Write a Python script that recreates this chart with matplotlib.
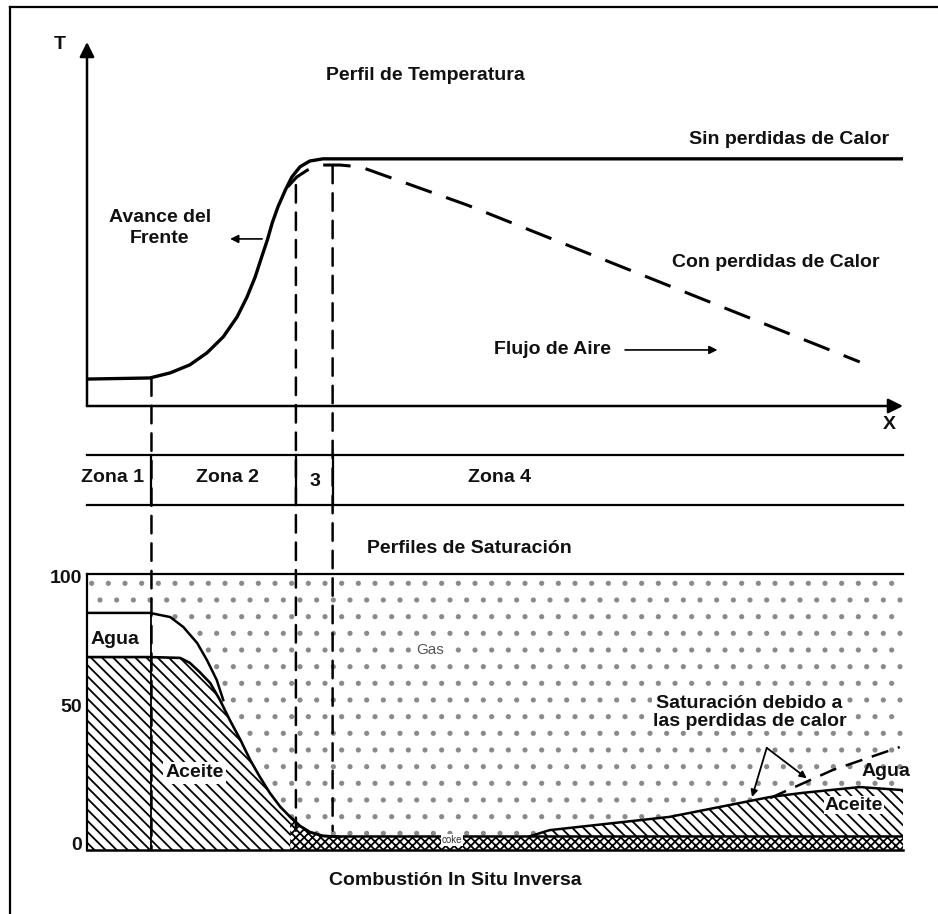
import matplotlib.pyplot as plt
from matplotlib.patches import ConnectionPatch
from matplotlib.lines import Line2D

plt.rcParams['font.family'] = ['Liberation Sans', 'DejaVu Sans']
plt.rcParams['hatch.linewidth'] = 1.3

# --- temperature profile (x: distance 0-100, T: 0-100 arbitrary) ---
temp_x = [0, 7.7, 10.2, 12.6, 14.7, 16.7, 18.4, 19.6, 20.6, 21.4, 22.1, 22.7, 23.4, 24.3,
          25.1, 26.1, 27.3, 28.9, 99.9]
temp_solid = [7.4, 7.7, 9.1, 11.3, 14.6, 19.0, 24.5, 29.9, 35.4, 40.9, 45.6, 50.3, 54.7, 59.3,
              62.9, 65.7, 67.3, 67.9, 67.9]
loss_x = [24.6, 25.7, 27.0, 28.6, 31.0, 33.5, 46.6, 94.7]
temp_loss = [60.2, 62.9, 64.8, 66.2, 66.2, 65.7, 55.2, 12.1]

# zone boundaries and where the dashed guides start / end
zone_bounds = [7.9, 25.6, 30.1]
guide_top_T = [7.6, 60.7, 66.0]
guide_bot_S = [0, 7, 7]
zone_labels = ["Zona 1", "Zona 2", "3", "Zona 4"]
zone_label_x = [3.1, 17.2, 27.9, 50.6]

# --- saturation profiles (%) ---
water_x = [0, 7.7, 10.2, 11.8, 13.5, 14.7, 15.9, 16.7]
water_S = [85.9, 85.9, 84.4, 80.8, 75.0, 68.8, 61.6, 54.3]
oil_x = [0, 7.7, 11.4, 12.6, 13.8, 15.1, 16.3, 17.5, 18.8, 20.0, 21.2, 22.4, 23.7, 24.9,
         26.1, 27.3, 28.9, 31.0]
oil_S = [69.9, 69.9, 69.6, 67.8, 64.5, 60.5, 54.3, 47.1, 39.9, 32.6, 26.4, 20.7, 15.6, 12.0,
         8.7, 6.5, 5.1, 4.7]
coke_x = [24.9, 26.1, 27.3, 28.9, 31.0, 100]
coke_S = [12.0, 8.7, 6.5, 5.1, 4.9, 4.9]
oil_right_x = [54.3, 56.7, 71.4, 83.7, 87.7, 94.7, 100]
oil_right_S = [5.0, 7.2, 12.0, 19.2, 20.7, 22.8, 21.7]
water_right_x = [83.7, 91.4, 99.6]
water_right_S = [18.8, 29.0, 37.3]

W, H = 938, 914
fig = plt.figure(figsize=(W / 100, H / 100), dpi=100)


def box(x0, y0, x1, y1):
    return [x0 / W, 1 - y1 / H, (x1 - x0) / W, (y1 - y0) / H]


bold = dict(fontsize=14, fontweight="bold", color="#111111")

# outer frame (left and top only)
fig.add_artist(Line2D([10 / W, 10 / W], [0, 1 - 7 / H], color="black", lw=1.6))
fig.add_artist(Line2D([10 / W, 1], [1 - 7 / H, 1 - 7 / H], color="black", lw=1.6))

# ---------------- temperature panel ----------------
axT = fig.add_axes(box(87, 42, 903, 406))
axT.set_xlim(0, 100)
axT.set_ylim(0, 100)
axT.axis("off")
arrow = dict(arrowstyle="-|>", lw=1.8, color="black", mutation_scale=22, shrinkA=0, shrinkB=0)
axT.annotate("", xy=(0, 100), xytext=(0, 0), arrowprops=arrow, annotation_clip=False)
axT.annotate("", xy=(100, 0), xytext=(0, 0), arrowprops=arrow, annotation_clip=False)

axT.plot(temp_x, temp_solid, color="black", lw=2.4, solid_joinstyle="round")
axT.plot(loss_x, temp_loss, color="black", lw=2.2, dashes=(9, 5))

axT.text(-3.3, 99.2, "T", ha="center", va="center", **bold)
axT.text(98.3, -5.2, "X", ha="center", va="center", **bold)
axT.text(41.5, 90.9, "Perfil de Temperatura", ha="center", va="center", **bold)
axT.text(86.0, 73.1, "Sin perdidas de Calor", ha="center", va="center", **bold)
axT.text(84.4, 39.3, "Con perdidas de Calor", ha="center", va="center", **bold)
axT.text(57.1, 15.4, "Flujo de Aire", ha="center", va="center", **bold)
axT.annotate("", xy=(77.6, 15.4), xytext=(65.6, 15.4),
             arrowprops=dict(arrowstyle="-|>", lw=1.2, color="black", mutation_scale=12))
axT.text(8.9, 48.9, "Avance del\nFrente", ha="center", va="center", linespacing=1.25, **bold)
axT.annotate("", xy=(17.2, 45.9), xytext=(21.8, 45.9),
             arrowprops=dict(arrowstyle="-|>", lw=1.2, color="black", mutation_scale=12))

# ---------------- zone band ----------------
axZ = fig.add_axes(box(87, 455, 903, 505))
axZ.set_xlim(0, 100)
axZ.set_ylim(0, 1)
axZ.axis("off")
axZ.plot([0, 100], [1, 1], color="black", lw=1.6, clip_on=False)
axZ.plot([0, 100], [0, 0], color="black", lw=1.6, clip_on=False)
for xb in zone_bounds:
    axZ.plot([xb, xb], [0, 1], color="black", lw=1.6, clip_on=False)
for lab, lx in zip(zone_labels, zone_label_x):
    ly = 0.46 if lab == "3" else 0.54
    axZ.text(lx, ly, lab, ha="center", va="center", **bold)

# ---------------- saturation panel ----------------
axS = fig.add_axes(box(87, 574, 903, 850))
axS.set_xlim(0, 100)
axS.set_ylim(0, 100)
axS.axis("off")

# gas stipple over the whole panel
axS.fill_between([0, 100], 0, 100, facecolor="white", edgecolor="#8a8a8a",
                 hatch=".", linewidth=0, zorder=1)
# water (left)
axS.fill_between(water_x, 0, water_S, facecolor="white", linewidth=0, zorder=2)
axS.plot(water_x, water_S, color="black", lw=1.8, zorder=5)
# oil (left)
axS.fill_between(oil_x, 0, oil_S, facecolor="white", edgecolor="black",
                 hatch="\\\\\\", linewidth=0, zorder=3)
axS.plot(oil_x, oil_S, color="black", lw=1.9, zorder=5)
axS.plot([7.9, 7.9], [0, 85.9], color="black", lw=1.3, zorder=5)
# oil (right, heat losses)
axS.fill_between(oil_right_x, 0, oil_right_S, facecolor="white", edgecolor="black",
                 hatch="\\\\\\", linewidth=0, zorder=3)
axS.plot(oil_right_x, oil_right_S, color="black", lw=1.8, zorder=5)
axS.plot(water_right_x, water_right_S, color="black", lw=1.8, dashes=(7, 4), zorder=5)
# coke
axS.fill_between(coke_x, 0, coke_S, facecolor="white", edgecolor="black",
                 hatch="xxxx", linewidth=0, zorder=4)
axS.plot(coke_x, coke_S, color="black", lw=1.8, zorder=5)

# frame of the panel
axS.plot([0, 100], [100, 100], color="black", lw=1.6, zorder=6, clip_on=False)
axS.plot([0, 100], [0, 0], color="black", lw=1.8, zorder=6, clip_on=False)
axS.plot([0, 0], [0, 100], color="black", lw=1.6, zorder=6, clip_on=False)

for v in [100, 50, 0]:
    axS.text(-0.6, v + (1.8 if v < 100 else -1.8), str(v), ha="right", va="center", **bold)

axS.text(46.9, 109.4, "Perfiles de Saturación", ha="center", va="center", **bold)
axS.text(45.1, -10.9, "Combustión In Situ Inversa", ha="center", va="center", **bold)
axS.text(3.4, 76.1, "Agua", ha="center", va="center", zorder=7, **bold)
axS.text(13.2, 27.9, "Aceite", ha="center", va="center", zorder=7,
         bbox=dict(facecolor="white", edgecolor="none", pad=1.5), **bold)
axS.text(42.0, 72.5, "Gas", ha="center", va="center", fontsize=11, color="#555555", zorder=7,
         bbox=dict(facecolor="white", edgecolor="none", pad=1))
axS.text(44.7, 3.6, "coke", ha="center", va="center", fontsize=7, color="#333333", zorder=7,
         bbox=dict(facecolor="white", edgecolor="none", pad=0.5))
axS.text(81.2, 49.8, "Saturación debido a\nlas perdidas de calor", ha="center", va="center",
         linespacing=1.1, zorder=7, bbox=dict(facecolor="white", edgecolor="none", pad=0.5),
         **bold)
axS.text(97.9, 28.3, "Agua", ha="center", va="center", zorder=7, **bold)
axS.text(94.0, 16.3, "Aceite", ha="center", va="center", zorder=7,
         bbox=dict(facecolor="white", edgecolor="none", pad=0.5), **bold)
for tip in [(81.5, 19.2), (88.2, 26.0)]:
    axS.annotate("", xy=tip, xytext=(83.3, 37.0), zorder=7,
                 arrowprops=dict(arrowstyle="-|>", lw=1.3, color="black", mutation_scale=10,
                                 shrinkA=0, shrinkB=0))

# dashed guides from the temperature curve down to the saturation panel
for xb, t0, s1 in zip(zone_bounds, guide_top_T, guide_bot_S):
    con = ConnectionPatch(xyA=(xb, t0), coordsA=axT.transData,
                          xyB=(xb, s1), coordsB=axS.transData,
                          color="black", lw=1.8, linestyle=(0, (7, 4)))
    fig.add_artist(con)

fig.savefig("out.png", dpi=100)
